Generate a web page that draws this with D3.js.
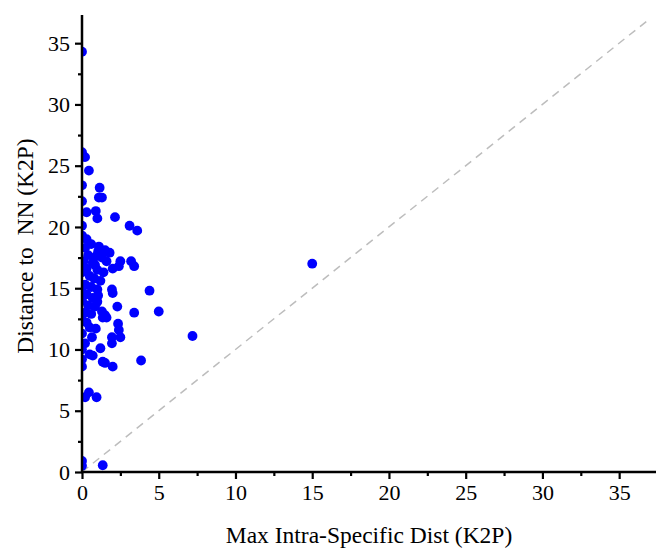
<!DOCTYPE html>
<html><head><meta charset="utf-8">
<script src="https://cdn.jsdelivr.net/npm/d3@7"></script>
<style>body{margin:0;background:#fff;} text{font-family:"Liberation Serif","Times New Roman",serif;}</style>
</head><body>
<svg id="c" width="659" height="550"></svg>
<script>
const xTicks = [0,5,10,15,20,25,30,35];
const yTicks = [0,5,10,15,20,25,30,35];
const xLabel = "Max Intra-Specific Dist (K2P)";
const yLabel = "Distance to  NN (K2P)";
const maxIntra = [0,0,0.2,0.45,0,1.15,1.1,1.3,0,0.3,0.9,1.0,2.15,3.1,3.6,0,0,0.3,0.2,0.6,1.1,1.5,1.8,0.4,0.9,1.3,0.1,0.7,1.6,2.5,3.2,3.4,2.4,0.3,1.0,1.4,2.0,0,0.5,0.8,1.2,0.2,0.6,0,1.0,1.95,2.0,4.4,0.3,0.7,1.05,1.0,0,0.4,0.85,2.3,1.3,0.2,0.6,1.5,1.6,3.4,5.0,0,0.3,1.35,2.35,0.5,0.9,2.4,0,0.65,1.95,2.5,7.2,1.95,0.2,0,1.2,0.5,0.7,1.35,1.5,3.85,2.0,0,0,0.2,0.45,0.95,0,0,1.35,15.0,1.05,0.85];
const nnDist = [34.3,26.1,25.7,24.6,23.4,23.2,22.4,22.4,22.1,21.2,21.3,20.7,20.8,20.1,19.7,20.1,19.3,19.0,18.3,18.6,18.4,18.1,17.9,17.7,17.6,17.5,17.2,17.1,17.2,17.2,17.2,16.8,16.8,16.6,16.5,16.3,16.6,16.3,16.0,15.8,15.6,15.3,15.1,15.0,14.9,14.9,14.6,14.8,14.5,14.2,14.4,13.9,14.0,13.6,13.5,13.5,13.1,13.0,12.9,12.8,12.6,13.0,13.1,12.4,12.2,12.6,12.1,11.8,11.7,11.6,11.3,11.0,11.0,11.0,11.1,10.5,10.5,10.0,10.1,9.6,9.5,9.0,8.9,9.1,8.6,9.2,8.6,6.1,6.5,6.1,0.9,0.5,0.55,17.0,18.0,16.9];

const svg = d3.select("#c");
const L=82, T=15, R=656, B=472;
const x = d3.scaleLinear().domain([0,37.4]).range([L,R]);
const y = d3.scaleLinear().domain([0,37.3]).range([B,T]);

svg.append("defs").append("clipPath").attr("id","clip")
  .append("rect").attr("x",L).attr("y",T).attr("width",R-L).attr("height",B-T);

svg.append("line").attr("x1",x(0)).attr("y1",y(0)).attr("x2",x(36.8)).attr("y2",y(36.8))
  .attr("stroke","#bdbdbd").attr("stroke-width",1.5).attr("stroke-dasharray","8,6");

const pts = maxIntra.map((v,i)=>({x:v,y:nnDist[i]}));
svg.append("g").attr("clip-path","url(#clip)").selectAll("circle").data(pts).join("circle")
  .attr("cx",d=>x(d.x)).attr("cy",d=>y(d.y)).attr("r",4.9).attr("fill","#0000ff");

const minorX = d3.range(2.5,37.4,5);
const minorY = d3.range(2.5,37.3,5);
const gx = svg.append("g").attr("transform",`translate(0,${B})`);
gx.call(d3.axisBottom(x).tickValues(xTicks).tickSize(7).tickPadding(5).tickFormat(d3.format("d")));
const gxm = svg.append("g").attr("transform",`translate(0,${B})`);
gxm.call(d3.axisBottom(x).tickValues(minorX).tickSize(4).tickFormat(""));
const gy = svg.append("g").attr("transform",`translate(${L},0)`);
gy.call(d3.axisLeft(y).tickValues(yTicks).tickSize(7).tickPadding(5).tickFormat(d3.format("d")));
const gym = svg.append("g").attr("transform",`translate(${L},0)`);
gym.call(d3.axisLeft(y).tickValues(minorY).tickSize(4).tickFormat(""));
gxm.select(".domain").remove();
gym.select(".domain").remove();
gx.select(".domain").attr("d",`M${L-1},0H${R}`);
gy.select(".domain").attr("d",`M0,${B+1}V${T}`);
svg.selectAll(".domain").attr("stroke","#000").attr("stroke-width",2.5).attr("fill","none");
svg.selectAll(".tick line").attr("stroke","#000").attr("stroke-width",2.2);
svg.selectAll(".tick text").attr("font-size",22).attr("fill","#000")
  .style("font-family","'Liberation Serif','Times New Roman',serif");

svg.append("text").attr("x",369).attr("y",543).attr("text-anchor","middle").attr("font-size",23.5).attr("fill","#000").text(xLabel);
svg.append("text").attr("transform","translate(33,246) rotate(-90)").attr("text-anchor","middle").attr("font-size",23.5).attr("fill","#000").style("white-space","pre").text(yLabel);
</script>
</body></html>
